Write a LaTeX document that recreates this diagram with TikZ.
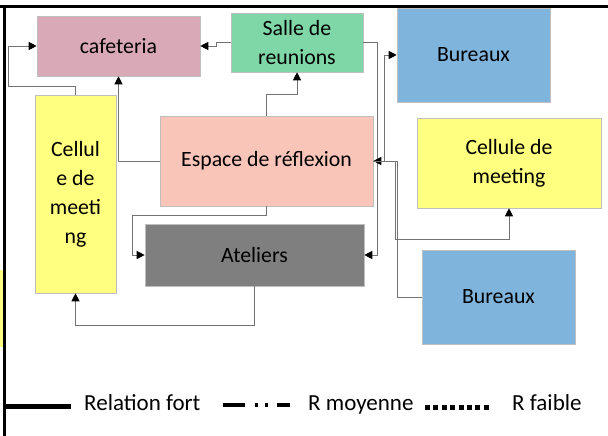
\documentclass[tikz,border=0pt]{standalone}
\usepackage{fontspec}
\setmainfont{Carlito}
\usetikzlibrary{arrows.meta}
\definecolor{cafcol}{HTML}{D9A9B8}
\definecolor{sallecol}{HTML}{7FD7A7}
\definecolor{burcol}{HTML}{7FB4DD}
\definecolor{celcol}{HTML}{FFFF80}
\definecolor{espcol}{HTML}{F9C5B9}
\definecolor{atecol}{HTML}{7F7F7F}
\begin{document}
\begin{tikzpicture}[x=1bp,y=-1bp,
  bloc/.style={draw=black!25, line width=0.6bp, inner sep=0pt, align=center,
    font=\fontsize{21.8bp}{29bp}\selectfont},
  link/.style={draw=black!55, line width=0.9bp, -{Triangle[length=8bp,width=8bp,black]}},
  legtext/.style={anchor=base west, inner sep=0pt, font=\fontsize{23bp}{28bp}\selectfont}]
\useasboundingbox (0,0) rectangle (608,436);
\fill[celcol] (0,270) rectangle (3,347);
\draw[line width=3bp] (0,7) -- (608,7);
\draw[line width=3bp] (4.5,7) -- (4.5,436);
\node[bloc, fill=cafcol, minimum width=163bp, minimum height=60bp] (caf) at (118.5,46) {cafeteria};
\node[bloc, fill=sallecol, minimum width=132bp, minimum height=59bp] (salle) at (297,42.5) {Salle de\\reunions};
\node[bloc, fill=burcol, minimum width=153bp, minimum height=94bp] (bur1) at (473.5,55) {Bureaux};
\node[bloc, fill=celcol, minimum width=81bp, minimum height=198bp] (cel1) at (75.5,194) {Cellul\\e de\\meeti\\ng};
\node[bloc, fill=espcol, minimum width=213bp, minimum height=90bp] (esp) at (266.5,161) {Espace de réflexion};
\node[bloc, fill=celcol, minimum width=184bp, minimum height=90bp] (cel2) at (509,163) {Cellule de\\meeting};
\node[bloc, fill=atecol, minimum width=219bp, minimum height=62bp] (ate) at (254.5,255) {Ateliers};
\node[bloc, fill=burcol, minimum width=153bp, minimum height=94bp] (bur2) at (498.5,297) {Bureaux};
\draw[link] (cel1.north) |- (8,86) |- (caf.west);
\draw[link] (salle.west) -- ++(-14,0) |- (caf.east);
\draw[link] (esp.west) -| (caf.south);
\draw[link] (esp.north) -- ++(0,-21) -| (salle.south);
\draw[link] (esp.south) -- ++(0,9) -| ([xshift=-12bp]ate.west) -- (ate.west);
\draw[link] (ate.south) -- ++(0,39) -| (cel1.south);
\draw[link] (salle.east) -- ++(14,0) |- (ate.east);
\draw[link] (esp.east) -- ++(11,0) |- (bur1.west);
\draw[link] (bur2.west) -- ++(-24,0) |- (esp.east);
\draw[link] (esp.east) -- ++(22,0) |- ([yshift=-31bp]cel2.south) -- (cel2.south);
\draw[line width=5bp] (4.5,406) -- (71,406);
\node[legtext] (lgfort) at (84,410) {Relation fort};
\draw[line width=4bp, dash pattern=on 22bp off 10bp on 3bp off 7bp on 3bp off 9bp] (223,405) -- (290,405);
\node[legtext] (lgmoy) at (308,410) {R moyenne};
\draw[line width=5bp, dash pattern=on 5bp off 3.4bp] (425,407) -- (492,407);
\node[legtext] (lgfaib) at (512,410) {R faible};
\end{tikzpicture}
\end{document}
